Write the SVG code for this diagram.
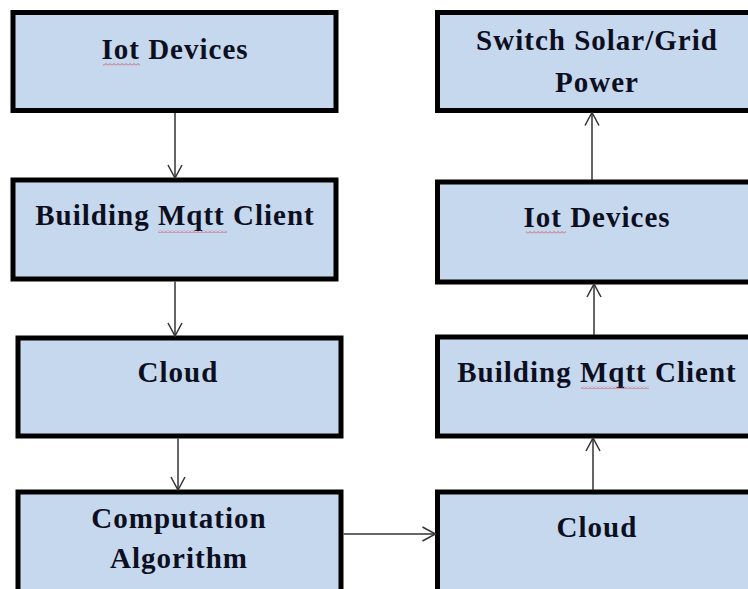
<svg xmlns="http://www.w3.org/2000/svg" width="748" height="589" viewBox="0 0 748 589">
  <defs>
    <marker id="arr" viewBox="0 0 16 16" refX="15" refY="8" markerWidth="16" markerHeight="16" markerUnits="userSpaceOnUse" orient="auto">
      <path d="M2,1 L15,8 L2,15" fill="none" stroke="#333" stroke-width="1.5"/>
    </marker>
    <pattern id="sq" width="4" height="3" patternUnits="userSpaceOnUse">
      <polyline points="0,2.5 2,0.5 4,2.5" fill="none" stroke="#d05060" stroke-width="0.9"/>
    </pattern>
    <style>
      .box { fill: #c6d8ee; stroke: #000; stroke-width: 5; }
      .lbl { font-family: "Liberation Serif", "Times New Roman", serif; font-weight: bold; font-size: 29px; letter-spacing: 1px; fill: #0d0f1e; text-anchor: middle; }
      .con { stroke: #333; stroke-width: 1.5; fill: none; marker-end: url(#arr); }
      .sq { fill: url(#sq); }
    </style>
  </defs>
  <rect width="748" height="589" fill="#ffffff"/>

  <g id="left-iot">
    <rect class="box" x="13" y="12.5" width="323" height="98"/>
    <text class="lbl" x="175" y="59">Iot Devices</text>
    <rect class="sq" x="103" y="63" width="37" height="3"/>
  </g>
  <g id="left-mqtt">
    <rect class="box" x="13" y="180" width="323" height="99"/>
    <text class="lbl" x="175" y="225">Building Mqtt Client</text>
    <rect class="sq" x="158" y="230" width="69" height="3"/>
  </g>
  <g id="left-cloud">
    <rect class="box" x="18" y="338" width="323" height="98"/>
    <text class="lbl" x="178" y="382">Cloud</text>
  </g>
  <g id="computation">
    <rect class="box" x="18" y="492" width="323" height="110"/>
    <text class="lbl" x="179" y="528">Computation</text>
    <text class="lbl" x="179" y="568">Algorithm</text>
  </g>

  <g id="switch">
    <rect class="box" x="437.5" y="12.5" width="330" height="98"/>
    <text class="lbl" x="597" y="50">Switch Solar/Grid</text>
    <text class="lbl" x="597" y="92">Power</text>
  </g>
  <g id="right-iot">
    <rect class="box" x="437.5" y="182" width="330" height="100"/>
    <text class="lbl" x="597" y="227">Iot Devices</text>
    <rect class="sq" x="526" y="231" width="40" height="3"/>
  </g>
  <g id="right-mqtt">
    <rect class="box" x="437.5" y="337" width="330" height="99"/>
    <text class="lbl" x="597" y="382">Building Mqtt Client</text>
    <rect class="sq" x="581" y="386" width="68" height="3"/>
  </g>
  <g id="right-cloud">
    <rect class="box" x="437.5" y="492" width="330" height="110"/>
    <text class="lbl" x="597" y="537">Cloud</text>
  </g>

  <g id="connectors">
    <line class="con" x1="175" y1="113" x2="175" y2="178"/>
    <line class="con" x1="175" y1="281.5" x2="175" y2="336"/>
    <line class="con" x1="178" y1="438.5" x2="178" y2="490"/>
    <line class="con" x1="343.5" y1="534" x2="435.5" y2="534"/>
    <line class="con" x1="593" y1="490" x2="593" y2="438"/>
    <line class="con" x1="594" y1="335" x2="594" y2="284"/>
    <line class="con" x1="592" y1="180" x2="592" y2="112.5"/>
  </g>
</svg>
